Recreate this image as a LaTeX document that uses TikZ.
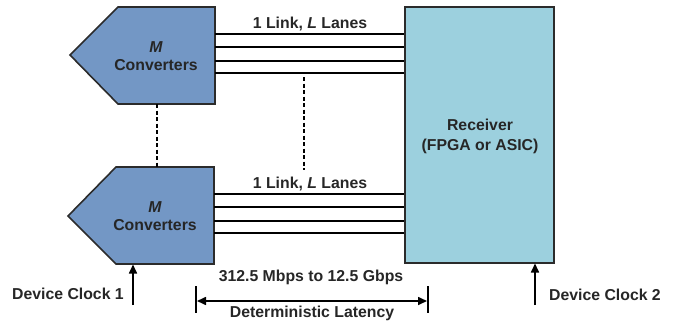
\documentclass[tikz,border=0pt]{standalone}
\usepackage{fontspec}
\setmainfont{Liberation Sans}
\usetikzlibrary{arrows.meta}
\definecolor{convblue}{HTML}{7397C5}
\definecolor{recvblue}{HTML}{9CD0DE}
\definecolor{edge}{HTML}{2B2B2B}
\begin{document}
\begin{tikzpicture}[x=1pt,y=-1pt,
  txt/.style={font=\bfseries\fontsize{15.8}{18}\selectfont, inner sep=0pt, align=center, text=black!85},
  convshape/.style={draw=edge, line width=1.6pt, fill=convblue, line join=miter},
  recvbox/.style={draw=edge, line width=1.6pt, fill=recvblue, minimum width=149pt, minimum height=256pt, inner sep=0pt},
  lane/.style={draw=black, line width=1.6pt},
  dotted line/.style={draw=black, line width=1.6pt, dash pattern=on 4pt off 2.5pt},
  clockarrow/.style={draw=black, line width=1.6pt, -{Triangle[length=9pt,width=8pt]}},
  latarrow/.style={draw=black, line width=1.6pt, {Triangle[length=9pt,width=8pt]}-{Triangle[length=9pt,width=8pt]}},
  bar/.style={draw=black, line width=1.6pt}
]
\useasboundingbox (0,0) rectangle (675,324);

% receiver
\node[recvbox] (recv) at (479.5,135) {};
\node[txt, font=\bfseries\fontsize{15.8}{20}\selectfont] (recvt) at (480,136) {Receiver\\(FPGA or ASIC)};

% converter 1
\coordinate (c1tip) at (70,55);
\coordinate (c1tl) at (118,7);
\coordinate (c1tr) at (215,7);
\coordinate (c1br) at (215,104);
\coordinate (c1bl) at (118,104);
\path[convshape] (c1tip) -- (c1tl) -- (c1tr) -- (c1br) -- (c1bl) -- cycle;
\node[txt] (c1t) at (156,56) {\textit{M}\\Converters};

% converter 2
\coordinate (c2tip) at (68,216);
\coordinate (c2tl) at (116,167);
\coordinate (c2tr) at (214,167);
\coordinate (c2br) at (214,264);
\coordinate (c2bl) at (116,264);
\path[convshape] (c2tip) -- (c2tl) -- (c2tr) -- (c2br) -- (c2bl) -- cycle;
\node[txt] (c2t) at (155,216) {\textit{M}\\Converters};

% lanes top
\foreach \y [count=\i] in {34,47,61,73} {
  \coordinate (a\i) at (215,\y);
  \draw[lane] (a\i) -- (recv.west |- a\i);
}
% lanes bottom
\foreach \y [count=\i] in {194,207,221,233} {
  \coordinate (b\i) at (214,\y);
  \draw[lane] (b\i) -- (recv.west |- b\i);
}

\node[txt] (l1) at (310,24) {1 Link, \textit{L} Lanes};
\node[txt] (l2) at (310,184) {1 Link, \textit{L} Lanes};

% dashed
\coordinate (d1a) at (157,104);
\coordinate (d1b) at (157,167);
\draw[dotted line] (d1a) -- (d1b);
\coordinate (d2a) at (304,77);
\coordinate (d2b) at (304,170);
\draw[dotted line] (d2a) -- (d2b);

% clocks
\coordinate (k1s) at (133,305);
\coordinate (k1e) at (133,264.5);
\draw[clockarrow] (k1s) -- (k1e);
\node[txt] (k1) at (68,294) {Device Clock 1};
\coordinate (k2s) at (535,305);
\coordinate (k2e) at (535,263.5);
\draw[clockarrow] (k2s) -- (k2e);
\node[txt] (k2) at (605,295) {Device Clock 2};

% rate and latency
\node[txt] (rate) at (311,277) {312.5 Mbps to 12.5 Gbps};
\coordinate (lb1a) at (196,286);
\coordinate (lb1b) at (196,313);
\coordinate (lb2a) at (428,286);
\coordinate (lb2b) at (428,313);
\draw[bar] (lb1a) -- (lb1b);
\draw[bar] (lb2a) -- (lb2b);
\coordinate (la1) at (197,301);
\coordinate (la2) at (427,301);
\draw[latarrow] (la1) -- (la2);
\node[txt] (lat) at (312,313) {Deterministic Latency};
\end{tikzpicture}
\end{document}
